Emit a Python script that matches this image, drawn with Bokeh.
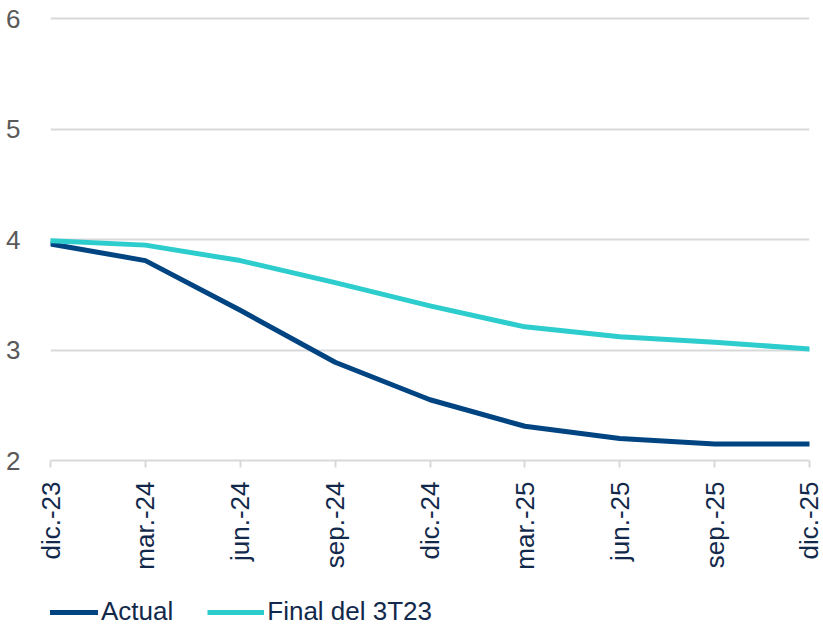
import math
from bokeh.plotting import figure
from bokeh.layouts import column
from bokeh.models import Range1d, FixedTicker, Legend, LegendItem
from bokeh.embed import file_html
from bokeh.resources import INLINE

categories = ["dic.-23", "mar.-24", "jun.-24", "sep.-24", "dic.-24",
              "mar.-25", "jun.-25", "sep.-25", "dic.-25"]
actual = [3.96, 3.81, 3.36, 2.89, 2.55, 2.31, 2.20, 2.15, 2.15]
final_3t23 = [3.99, 3.95, 3.81, 3.61, 3.40, 3.21, 3.12, 3.07, 3.01]
series_names = ["Actual", "Final del 3T23"]
y_ticks = [2, 3, 4, 5, 6]

NAVY = "#004481"
AQUA = "#2dcccd"
TEXT_NAVY = "#13294b"
GREY_TEXT = "#595959"
GRID = "#d9d9d9"
FONT = "Liberation Sans"

xs = list(range(len(categories)))

p = figure(frame_width=759, frame_height=444, output_backend="svg", toolbar_location=None,
           x_range=Range1d(0, len(categories) - 1), y_range=Range1d(2, 6.02),
           min_border_left=50, min_border_top=16, min_border_right=14,
           min_border_bottom=128)
p.outline_line_color = None
p.background_fill_color = "white"
p.border_fill_color = "white"

p.line(xs, actual, line_color=NAVY, line_width=5, line_cap="round", line_join="round")
p.line(xs, final_3t23, line_color=AQUA, line_width=5, line_cap="round", line_join="round")

# x axis
xa = p.xaxis[0]
xa.ticker = FixedTicker(ticks=xs)
xa.major_label_overrides = {i: c for i, c in enumerate(categories)}
xa.major_label_orientation = math.pi / 2
xa.major_label_text_font = FONT
xa.major_label_text_font_size = "26px"
xa.major_label_text_color = TEXT_NAVY
xa.major_label_standoff = 14
xa.axis_line_color = GRID
xa.axis_line_width = 2
xa.major_tick_line_color = GRID
xa.major_tick_line_width = 2
xa.major_tick_out = 7
xa.major_tick_in = 0
xa.minor_tick_line_color = None

# y axis
ya = p.yaxis[0]
ya.ticker = FixedTicker(ticks=y_ticks)
ya.major_label_text_font = FONT
ya.major_label_text_font_size = "26px"
ya.major_label_text_color = GREY_TEXT
ya.major_label_standoff = 24
ya.axis_line_color = None
ya.major_tick_line_color = None
ya.minor_tick_line_color = None

p.xgrid.grid_line_color = None
p.ygrid.ticker = FixedTicker(ticks=y_ticks[1:])
p.ygrid.grid_line_color = GRID
p.ygrid.grid_line_width = 2

# legend strip below the chart (its lines lie outside its visible range)
lg = figure(width=823, height=39, output_backend="svg", toolbar_location=None,
            x_range=Range1d(-10, -9), y_range=Range1d(2, 6),
            x_axis_location=None, y_axis_location=None,
            min_border_left=0, min_border_right=0, min_border_top=0, min_border_bottom=0)
lg.outline_line_color = None
lg.xgrid.grid_line_color = None
lg.ygrid.grid_line_color = None
l1 = lg.line(xs, actual, line_color=NAVY, line_width=5)
l2 = lg.line(xs, final_3t23, line_color=AQUA, line_width=5)

legend = Legend(items=[LegendItem(label=series_names[0], renderers=[l1]),
                       LegendItem(label=series_names[1], renderers=[l2])],
                orientation="horizontal", location=(-9, 0),
                label_text_font=FONT, label_text_font_size="26px",
                label_text_color=TEXT_NAVY, glyph_width=57, glyph_height=20,
                label_standoff=3, spacing=34, padding=0, margin=0,
                border_line_color=None, background_fill_alpha=0)
lg.add_layout(legend, "center")

layout = column(p, lg, spacing=0)
open("out.html", "w").write(file_html(layout, INLINE))
